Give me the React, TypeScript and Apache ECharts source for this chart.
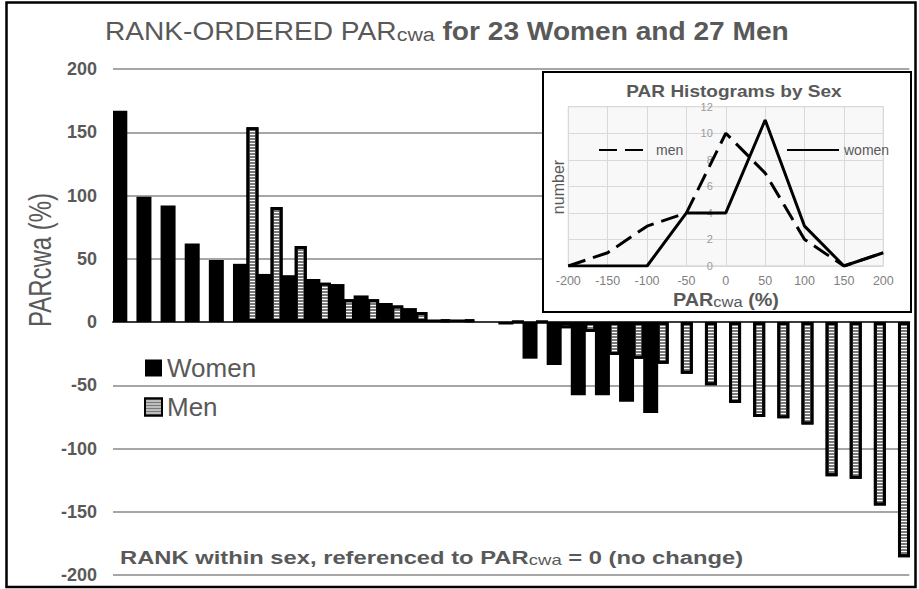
import React, { useEffect, useRef } from "react";
import * as echarts from "echarts";

// Rank slots along the main x axis (hidden labels)
const rankSlots = [
  "1", "2", "3", "4", "5", "6", "7", "8", "9", "10", "11",
  "12", "13", "14", "15", "16", "17", "18", "19", "20", "21", "22",
  "23", "24", "25", "26", "27", "28", "29", "30", "31", "32", "33",
];

// PARcwa (%) for women, rank-ordered
const womenPAR = [
  167, 99, 92, 62, 49, 46, 38, 37, 34, 30, 21, 15, 11, 2, 2, 0, -2, -29, -34, -58, -58, -63, -72,
  null, null, null, null, null, null, null, null, null, null,
];

// PARcwa (%) for men, rank-ordered
const menPAR = [
  null, null, null, null, null,
  154, 91, 60, 31, 18, 18, 13, 8, 2, 2, null, 0, 0,
  -5, -8, -26, -29, -33, -41, -50, -64, -75, -76, -81, -122, -124, -145, -186,
];

// Histogram inset
const binCenters = [-200, -150, -100, -50, 0, 50, 100, 150, 200];
const menCounts = [0, 1, 3, 4, 10, 7, 2, 0, 1];
const womenCounts = [0, 0, 0, 4, 4, 11, 3, 0, 1];

const mainYTicks = { min: -200, max: 200, interval: 50 };
const insetXTicks = { min: -200, max: 200, interval: 50 };
const insetYTicks = { min: 0, max: 12, interval: 2 };

const FONT = "'Liberation Sans', Arial, Helvetica, sans-serif";
const GRAY = "#595959";

export default function App() {
  const ref = useRef<HTMLDivElement>(null);

  useEffect(() => {
    if (!ref.current) return;
    const chart = echarts.init(ref.current, undefined, { renderer: "svg" });

    const menDecal = {
      symbol: "rect",
      symbolSize: 1,
      dashArrayX: [1, 0],
      dashArrayY: [2, 1],
      color: "#7a7a7a",
      rotation: 0,
    };

    const insetLegendBase = {
      itemWidth: 52,
      itemHeight: 14,
      padding: 0,
      textStyle: { fontSize: 14, color: GRAY, fontFamily: FONT, lineHeight: 14 },
      itemStyle: { opacity: 0 },
      selectedMode: false,
      z: 9,
    };

    const insetLeft = 568.3;
    const insetWidth = 315;

    const option: any = {
      animation: false,
      backgroundColor: "#ffffff",
      textStyle: { fontFamily: FONT },
      grid: [
        { left: 113, right: 9.7, top: 69, bottom: 14, containLabel: false },
        {
          left: insetLeft,
          top: 106.7,
          width: insetWidth,
          height: 159.3,
          show: true,
          backgroundColor: "#f8f8f8",
          borderColor: "#c8c8c8",
          borderWidth: 1,
          z: 6,
        },
      ],
      legend: [
        {
          data: ["Women", "Men"],
          orient: "vertical",
          left: 144,
          top: 355,
          padding: 0,
          icon: "rect",
          itemWidth: 17,
          itemHeight: 17,
          itemGap: 13,
          textStyle: { fontSize: 26, color: GRAY, fontFamily: FONT, lineHeight: 26 },
          selectedMode: false,
        },
        { ...insetLegendBase, data: ["men"], left: 598, top: 143 },
        { ...insetLegendBase, data: ["women"], left: 786, top: 143 },
      ],
      xAxis: [
        {
          type: "category",
          gridIndex: 0,
          data: rankSlots,
          axisLabel: { show: false },
          axisTick: { show: false },
          axisLine: { show: true, onZero: true, lineStyle: { color: "#3a3a3a", width: 2 } },
          splitLine: { show: false },
        },
        {
          type: "value",
          gridIndex: 1,
          min: insetXTicks.min,
          max: insetXTicks.max,
          interval: insetXTicks.interval,
          axisLine: { show: false },
          axisTick: { show: false },
          axisLabel: { color: "#7f7f7f", fontSize: 12.5, margin: 8, fontFamily: FONT },
          splitLine: { show: true, lineStyle: { color: "#d9d9d9", width: 1 } },
          z: 7,
        },
      ],
      yAxis: [
        {
          type: "value",
          gridIndex: 0,
          min: mainYTicks.min,
          max: mainYTicks.max,
          interval: mainYTicks.interval,
          axisLine: { show: false },
          axisTick: { show: false },
          axisLabel: {
            color: GRAY,
            fontSize: 18,
            fontWeight: "bold",
            margin: 16,
            fontFamily: FONT,
          },
          splitLine: { show: true, lineStyle: { color: "#a6a6a6", width: 2 } },
        },
        {
          type: "value",
          gridIndex: 1,
          position: "left",
          // the vertical axis sits at PARcwa = 0 (middle of the -200..200 range)
          offset: -insetWidth / 2,
          min: insetYTicks.min,
          max: insetYTicks.max,
          interval: insetYTicks.interval,
          axisLine: { show: false, onZero: false },
          axisTick: { show: false },
          axisLabel: { color: "#9a9a9a", fontSize: 11, margin: 13, fontFamily: FONT },
          splitLine: { show: true, lineStyle: { color: "#d9d9d9", width: 1 } },
          z: 7,
        },
      ],
      series: [
        {
          name: "Women",
          type: "bar",
          xAxisIndex: 0,
          yAxisIndex: 0,
          data: womenPAR,
          barWidth: 15,
          barGap: "-10%",
          itemStyle: { color: "#000000" },
          z: 4,
        },
        {
          name: "Men",
          type: "bar",
          xAxisIndex: 0,
          yAxisIndex: 0,
          data: menPAR,
          barWidth: 12,
          itemStyle: {
            color: "#ffffff",
            borderColor: "#000000",
            borderWidth: 3,
            decal: menDecal,
          },
          z: 3,
        },
        {
          name: "men",
          type: "line",
          xAxisIndex: 1,
          yAxisIndex: 1,
          data: binCenters.map((x, i) => [x, menCounts[i]]),
          symbol: "none",
          itemStyle: { color: "#000000" },
          lineStyle: { color: "#000000", width: 3, type: [18, 8] },
          z: 8,
        },
        {
          name: "women",
          type: "line",
          xAxisIndex: 1,
          yAxisIndex: 1,
          data: binCenters.map((x, i) => [x, womenCounts[i]]),
          symbol: "none",
          itemStyle: { color: "#000000" },
          lineStyle: { color: "#000000", width: 3 },
          z: 8,
        },
      ],
      graphic: [
        {
          type: "rect",
          shape: { x: 543, y: 72, width: 368, height: 240 },
          style: { fill: "#ffffff", stroke: "#000000", lineWidth: 2 },
          z: 5,
        },
        {
          type: "rect",
          shape: { x: 6.5, y: 2.5, width: 909, height: 584.5 },
          style: { fill: "none", stroke: "#000000", lineWidth: 2.5 },
          z: 20,
        },
        {
          type: "text",
          x: 105,
          y: 44,
          scaleX: 1.125,
          z: 20,
          style: {
            text: "{a|RANK-ORDERED PAR}{b|cwa}{c| for 23 Women and 27 Men}",
            fill: GRAY,
            verticalAlign: "bottom",
            rich: {
              a: { fontSize: 25, fontFamily: FONT, fill: GRAY, color: GRAY, verticalAlign: "bottom", lineHeight: 25 },
              b: { fontSize: 19, fontFamily: FONT, fill: GRAY, color: GRAY, verticalAlign: "bottom", lineHeight: 25 },
              c: { fontSize: 25, fontWeight: "bold", fontFamily: FONT, fill: GRAY, color: GRAY, verticalAlign: "bottom", lineHeight: 25 },
            },
          },
        },
        {
          type: "text",
          x: 40,
          y: 260,
          rotation: Math.PI / 2,
          scaleX: 1,
          scaleY: 1.27,
          z: 20,
          style: {
            text: "PARcwa (%)",
            font: `24px ${FONT}`,
            fill: GRAY,
            align: "center",
            verticalAlign: "middle",
          },
        },
        {
          type: "text",
          x: 120,
          y: 567,
          scaleX: 1.32,
          z: 20,
          style: {
            text: "{a|RANK within sex, referenced to PAR}{b|cwa}{a| = 0 (no change)}",
            fill: GRAY,
            verticalAlign: "bottom",
            rich: {
              a: { fontSize: 18, fontWeight: "bold", fontFamily: FONT, fill: GRAY, color: GRAY, verticalAlign: "bottom", lineHeight: 18 },
              b: { fontSize: 14, fontFamily: FONT, fill: GRAY, color: GRAY, verticalAlign: "bottom", lineHeight: 18 },
            },
          },
        },
        {
          type: "text",
          x: 734,
          y: 91,
          scaleX: 1.12,
          z: 20,
          style: {
            text: "PAR Histograms by Sex",
            font: `bold 17px ${FONT}`,
            fill: GRAY,
            align: "center",
            verticalAlign: "middle",
          },
        },
        {
          type: "text",
          x: 558,
          y: 187,
          rotation: Math.PI / 2,
          z: 20,
          style: {
            text: "number",
            font: `16px ${FONT}`,
            fill: GRAY,
            align: "center",
            verticalAlign: "middle",
          },
        },
        {
          type: "text",
          x: 673,
          y: 309,
          scaleX: 1.1,
          z: 20,
          style: {
            text: "{a|PAR}{b|cwa}{a| (%)}",
            fill: GRAY,
            verticalAlign: "bottom",
            rich: {
              a: { fontSize: 18, fontWeight: "bold", fontFamily: FONT, fill: GRAY, color: GRAY, verticalAlign: "bottom", lineHeight: 18 },
              b: { fontSize: 15, fontFamily: FONT, fill: GRAY, color: GRAY, verticalAlign: "bottom", lineHeight: 18 },
            },
          },
        },
      ],
    };

    chart.setOption(option);
    return () => chart.dispose();
  }, []);

  return <div ref={ref} style={{ width: 919, height: 589, position: "absolute", left: 0, top: 0 }} />;
}
